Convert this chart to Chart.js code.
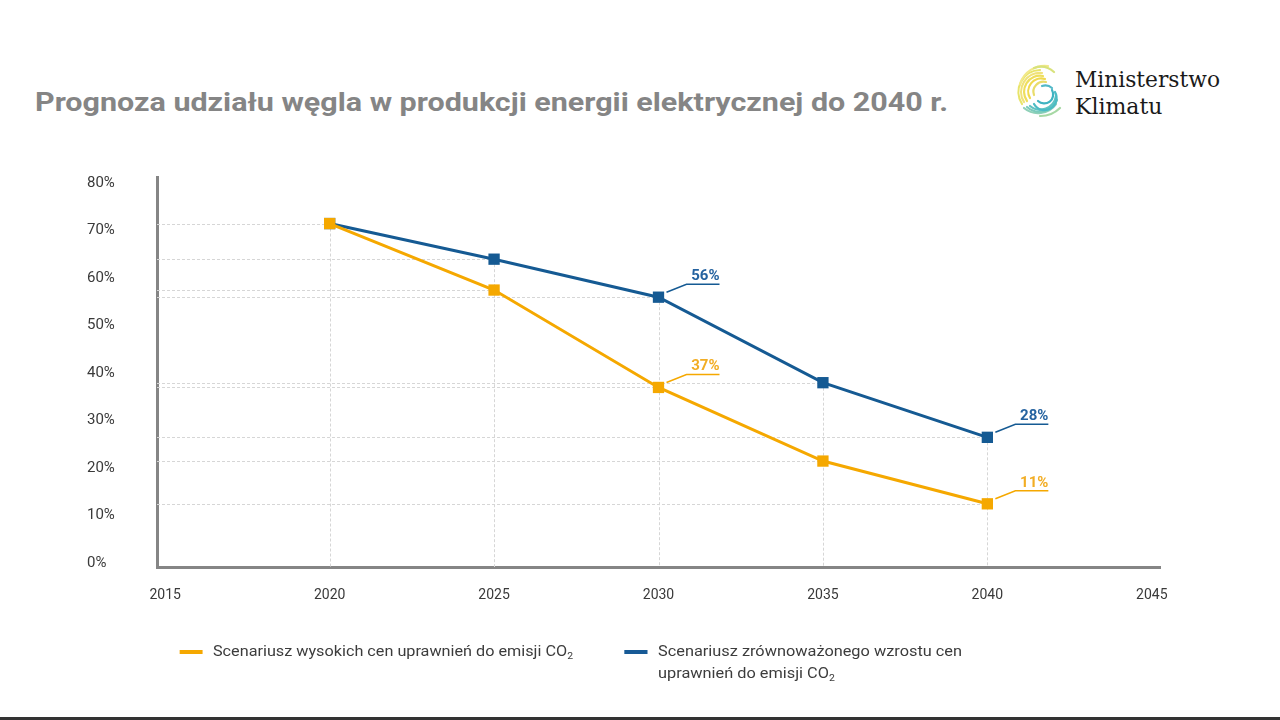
<!DOCTYPE html>
<html>
<head>
<meta charset="utf-8">
<script src="https://cdn.jsdelivr.net/npm/chart.js@4"></script>
<style>
    html, body { margin: 0; padding: 0; background: #fff; }
    body { width: 1280px; height: 720px; position: relative; overflow: hidden; font-family: Roboto, sans-serif; }
    #title { position: absolute; left: 35px; top: 87px; font-size: 26px; font-weight: 700; color: #858585; white-space: nowrap; transform-origin: 0 0; }
    #chart-wrap { position: absolute; left: 0; top: 0; width: 1280px; height: 720px; }
    #logo { position: absolute; left: 1016px; top: 64px; }
    .logo-text { position: absolute; left: 1075px; font-family: "DejaVu Serif", "Liberation Serif", serif; font-size: 22px; color: #1a1a1a; transform-origin: 0 0; }
    .legend { position: absolute; font-size: 14px; color: #3c3c3c; line-height: 22px; white-space: nowrap; transform-origin: 0 0; }
    .legend .swatch { position: absolute; left: -29px; top: 10px; width: 20px; height: 4px; }
    .legend sub { font-size: 9px; vertical-align: -3px; line-height: 0; }
    #bottom-line { position: absolute; left: 0; top: 717px; width: 1280px; height: 3px; background: #333; }
</style>
</head>
<body>
<div id="title">Prognoza udziału węgla w produkcji energii elektrycznej do 2040 r.</div>

<svg id="logo" width="48" height="58" viewBox="0 0 48 58">
    <g fill="none" stroke-width="2.2" stroke-linecap="round">
        <path d="M24 6 A22 22 0 0 0 6 40" stroke="#e8e46a"/>
        <path d="M26 9 A19 19 0 0 0 8 38" stroke="#f0e27a"/>
        <path d="M27 12 A16 16 0 0 0 11 37" stroke="#eede5c"/>
        <path d="M29 15 A13 13 0 0 0 14 34" stroke="#f0d94e"/>
        <path d="M30 18 A10 10 0 0 0 18 31" stroke="#e9dc6a"/>
        <path d="M32 2 A26 26 0 0 0 4 20" stroke="#f2e98a"/>
        <path d="M38 8 A20 20 0 0 0 18 4" stroke="#d8e27c"/>
        <path d="M8 44 A22 22 0 0 0 40 40" stroke="#8fd0b8"/>
        <path d="M11 43 A19 19 0 0 0 41 36" stroke="#7acbbb"/>
        <path d="M14 42 A16 16 0 0 0 40 32" stroke="#5fc3c2"/>
        <path d="M18 40 A12 12 0 0 0 39 28" stroke="#4bbbc4"/>
        <path d="M22 37 A9 9 0 0 0 36 26" stroke="#3fb3c2"/>
        <path d="M24 52 A28 28 0 0 0 44 44" stroke="#a6d8a4"/>
        <path d="M36 24 A10 10 0 0 0 26 22" stroke="#52b8c8"/>
    </g>
</svg>
<div class="logo-text" id="logo1" style="top: 67px;">Ministerstwo</div>
<div class="logo-text" id="logo2" style="top: 94px;">Klimatu</div>

<div id="chart-wrap"><canvas id="chart" width="1280" height="720"></canvas></div>

<div class="legend" id="legend1" style="left: 213px; top: 640px;">
    <span class="swatch" style="background:#f5a800;"></span>Scenariusz wysokich cen uprawnień do emisji CO<sub>2</sub>
</div>
<div class="legend" id="legend2" style="left: 658px; top: 640px;">
    <span class="swatch" style="background:#175a96;"></span>Scenariusz zrównoważonego wzrostu cen<br>uprawnień do emisji CO<sub>2</sub>
</div>
<div id="bottom-line"></div>

<script>
// years on the x axis and tick values
const years = [2020, 2025, 2030, 2035, 2040];
const xTicks = [2015, 2020, 2025, 2030, 2035, 2040, 2045];
const yTicks = [0, 10, 20, 30, 40, 50, 60, 70, 80];

// coal share, %
const highPrice = [71.5, 57.5, 37, 21.5, 12.5];
const balanced = [71.5, 64, 56, 38, 26.5];

// value callouts shown next to points
const highPriceLabels = [null, null, '37%', null, '11%'];
const balancedLabels = [null, null, '56%', null, '28%'];

const ORANGE = '#f5a800';
const BLUE = '#155a93';

function fitWidth(id, target) {
    const el = document.getElementById(id);
    const w = el.getBoundingClientRect().width;
    el.style.transform = 'scaleX(' + (target / w) + ')';
}
fitWidth('title', 913);
fitWidth('logo1', 145);

// dotted drop lines from each point to both axes
const dropLines = {
    id: 'dropLines',
    beforeDatasetsDraw(chart) {
        const ctx = chart.ctx;
        const area = chart.chartArea;
        ctx.save();
        ctx.strokeStyle = '#d6d6d6';
        ctx.lineWidth = 1;
        ctx.setLineDash([3, 2]);
        chart.data.datasets.forEach((ds, di) => {
            const meta = chart.getDatasetMeta(di);
            meta.data.forEach(pt => {
                ctx.beginPath();
                ctx.moveTo(area.left, Math.round(pt.y) + 0.5);
                ctx.lineTo(pt.x, Math.round(pt.y) + 0.5);
                ctx.stroke();
            });
        });
        const top = chart.getDatasetMeta(1).data;
        top.forEach((pt, i) => {
            const y = Math.min(pt.y, chart.getDatasetMeta(0).data[i].y);
            ctx.beginPath();
            ctx.moveTo(Math.round(pt.x) + 0.5, y);
            ctx.lineTo(Math.round(pt.x) + 0.5, area.bottom);
            ctx.stroke();
        });
        ctx.restore();
    }
};

// callouts: short leader, underline and bold value
const callouts = {
    id: 'callouts',
    afterDatasetsDraw(chart) {
        const ctx = chart.ctx;
        ctx.save();
        chart.data.datasets.forEach((ds, di) => {
            const meta = chart.getDatasetMeta(di);
            const texts = ds.calloutTexts;
            meta.data.forEach((pt, i) => {
                if (!texts[i]) return;
                const x0 = pt.x + 8, y0 = pt.y - 5;
                const x1 = pt.x + 28, y1 = pt.y - 13;
                const x2 = x1 + 33;
                ctx.strokeStyle = ds.borderColor;
                ctx.lineWidth = 1.5;
                ctx.beginPath();
                ctx.moveTo(x0, y0);
                ctx.lineTo(x1, y1);
                ctx.lineTo(x2, y1);
                ctx.stroke();
                ctx.fillStyle = ds.calloutColor;
                ctx.font = 'bold 15px Roboto';
                ctx.textAlign = 'right';
                ctx.textBaseline = 'alphabetic';
                ctx.fillText(texts[i], x2, y1 - 4);
            });
        });
        ctx.restore();
    }
};

new Chart(document.getElementById('chart'), {
    type: 'line',
    data: {
        datasets: [{
            label: 'Scenariusz wysokich cen uprawnień do emisji CO2',
            data: years.map((y, i) => ({ x: y, y: highPrice[i] })),
            borderColor: ORANGE,
            backgroundColor: ORANGE,
            calloutTexts: highPriceLabels,
            calloutColor: '#f2ad24',
            borderWidth: 3,
            pointStyle: 'rect',
            pointRadius: 8,
            pointBorderWidth: 0,
            tension: 0
        }, {
            label: 'Scenariusz zrównoważonego wzrostu cen uprawnień do emisji CO2',
            data: years.map((y, i) => ({ x: y, y: balanced[i] })),
            borderColor: BLUE,
            backgroundColor: BLUE,
            calloutTexts: balancedLabels,
            calloutColor: '#2563a0',
            borderWidth: 3,
            pointStyle: 'rect',
            pointRadius: 8,
            pointBorderWidth: 0,
            tension: 0
        }]
    },
    options: {
        responsive: false,
        animation: false,
        layout: { padding: { left: 87, top: 177, right: 120, bottom: 93 } },
        plugins: {
            legend: { display: false },
            tooltip: { enabled: false }
        },
        scales: {
            x: {
                type: 'linear',
                min: 2014.75,
                max: 2045.25,
                afterBuildTicks: s => { s.ticks = xTicks.map(v => ({ value: v })); },
                afterFit: s => { s.height = 60; },
                grid: { display: false, drawTicks: false },
                border: { color: '#858585', width: 3 },
                ticks: {
                    padding: 20,
                    color: '#3a3a3a',
                    font: { family: 'Roboto', size: 14 },
                    callback: v => String(v)
                }
            },
            y: {
                min: -0.8,
                max: 81.3,
                afterBuildTicks: s => { s.ticks = yTicks.map(v => ({ value: v })); },
                afterFit: s => { s.width = 70; },
                grid: { display: false, drawTicks: false },
                border: { color: '#858585', width: 3 },
                ticks: {
                    crossAlign: 'far',
                    padding: 39,
                    color: '#3a3a3a',
                    font: { family: 'Roboto', size: 15 },
                    callback: v => v + '%'
                }
            }
        }
    },
    plugins: [dropLines, callouts]
});

fitWidth('legend1', 360);
fitWidth('legend2', 304);
</script>
</body>
</html>
